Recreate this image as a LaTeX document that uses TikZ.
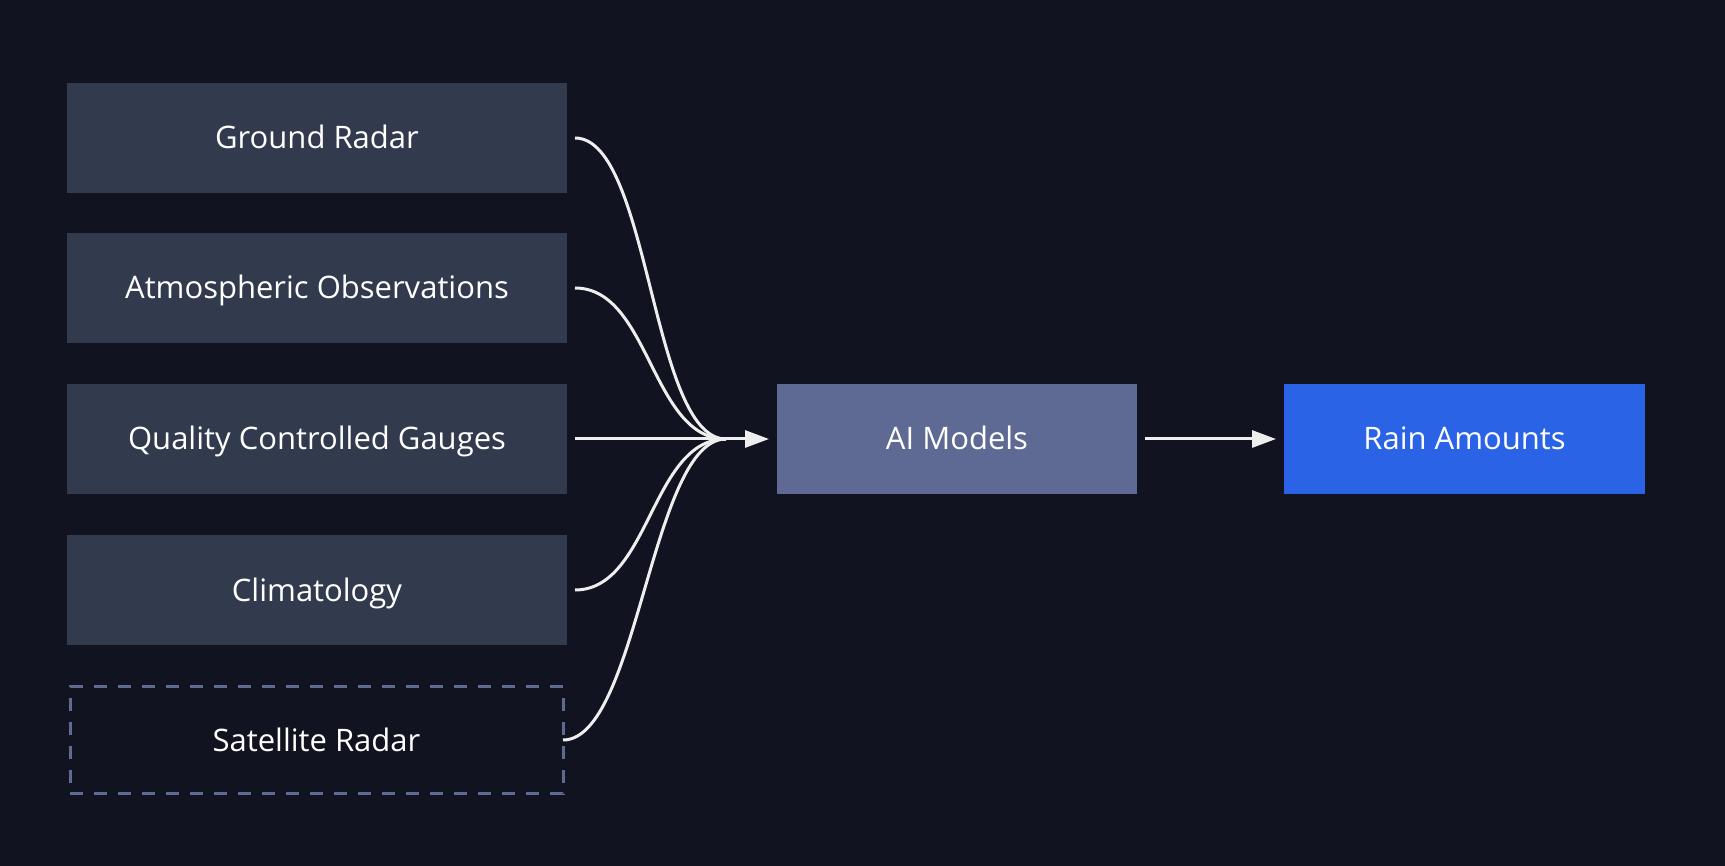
\documentclass[tikz,border=0pt]{standalone}
\usepackage{fontspec}
\setmainfont{Open Sans}
\definecolor{BGdark}{HTML}{111420}
\definecolor{SRCbox}{HTML}{323A4D}
\definecolor{AIslate}{HTML}{5E6A94}
\definecolor{RAINblue}{HTML}{2A63E6}
\definecolor{LINKwhite}{HTML}{EEEEEE}
\usetikzlibrary{arrows.meta,calc,positioning}

\begin{document}
\begin{tikzpicture}[x=1pt,y=-1pt,>={Triangle[length=24pt,width=17pt]},
    src/.style={fill=SRCbox,minimum width=500pt,minimum height=110pt,inner sep=0pt,outer xsep=8pt,
      text=white,text height=22pt,text depth=0pt,font=\fontsize{31}{36}\selectfont},
    link/.style={draw=LINKwhite,line width=3pt}]
  \fill[BGdark] (0,0) rectangle (1725,866);
  \useasboundingbox (0,0) rectangle (1725,866);
  % inputs
  \node[src] (radar) at (317,138) {Ground Radar};
  \node[src] (atmos) at (317,288) {Atmospheric Observations};
  \node[src] (gauge) at (317,439) {Quality Controlled Gauges};
  \node[src] (clima) at (317,590) {Climatology};
  \node[src,fill=none,outer xsep=0pt,minimum width=493pt,minimum height=107pt,
        draw=AIslate,line width=3pt,dash pattern=on 13pt off 11pt] (sat) at (316.5,740) {Satellite Radar};
  % model and output
  \node[src,fill=AIslate,minimum width=360pt] (ai) at (957,439) {AI Models};
  \node[src,fill=RAINblue,minimum width=361pt] (rain) at (1464.5,439) {Rain Amounts};
  \coordinate (m) at (726,439);
  \foreach \s in {radar,atmos,clima,sat}
    \draw[link] (\s.east) .. controls +(75,0) and +(-75,0) .. (m);
  \draw[link] (gauge.east) -- (m);
  \draw[link,->] (m) -- (ai.west);
  \draw[link,->] (ai.east) -- (rain.west);
\end{tikzpicture}
\end{document}
